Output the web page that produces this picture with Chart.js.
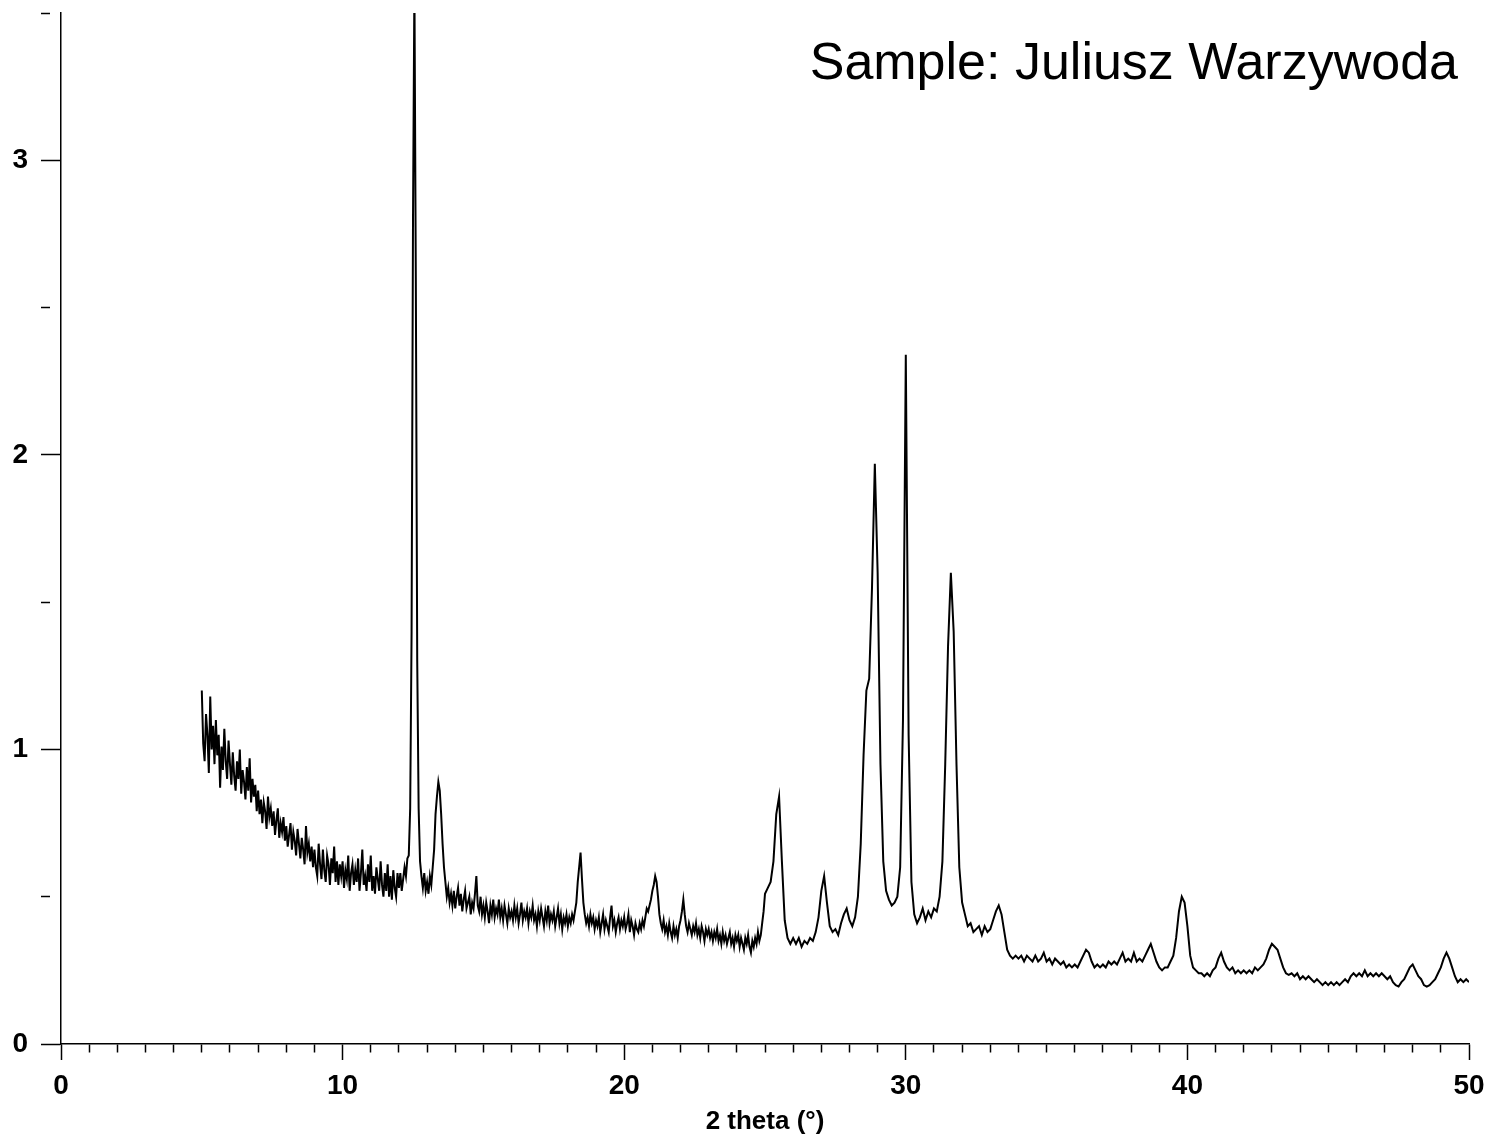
<!DOCTYPE html>
<html>
<head>
<meta charset="utf-8">
<title>XRD pattern</title>
<script src="https://cdn.jsdelivr.net/npm/chart.js@4.4.1/dist/chart.umd.min.js"></script>
<style>
  html, body { margin: 0; padding: 0; background: #fff; }
  #wrap { width: 1488px; height: 1141px; position: relative; }
</style>
</head>
<body>
<div id="wrap"><canvas id="xrdChart"></canvas></div>
<script>
/* XRD scan.
   5 - 25 deg is noisy, so it is read every 0.05 deg; 25 - 50 deg every 0.1 deg */
const sampleTitle = "Sample: Juliusz Warzywoda";
const xAxisTitle = "2 theta (\u00b0)";
const lowStart = 5.0;
const lowStep = 0.05;
const lowAngle = [
  1.20, 1.02, 0.96, 1.12, 1.05, 0.92, 1.18, 1.00, 1.08, 0.95,   // 5.0
  1.10, 0.98, 1.05, 0.87, 1.01, 0.93, 1.07, 0.96, 0.90, 1.03,   // 5.5
  0.95, 0.88, 0.99, 0.91, 0.86, 0.96, 0.90, 1.00, 0.85, 0.93,   // 6.0
  0.89, 0.83, 0.94, 0.86, 0.97, 0.82, 0.90, 0.84, 0.88, 0.79,   // 6.5
  0.86, 0.78, 0.83, 0.75, 0.82, 0.79, 0.73, 0.84, 0.77, 0.80,   // 7.0
  0.74, 0.79, 0.71, 0.76, 0.80, 0.70, 0.75, 0.72, 0.77, 0.69,   // 7.5
  0.74, 0.67, 0.71, 0.75, 0.66, 0.72, 0.69, 0.64, 0.73, 0.68,   // 8.0
  0.63, 0.70, 0.66, 0.61, 0.74, 0.65, 0.68, 0.62, 0.67, 0.60,   // 8.5
  0.66, 0.60, 0.57, 0.68, 0.61, 0.56, 0.66, 0.59, 0.55, 0.64,   // 9.0
  0.61, 0.54, 0.63, 0.58, 0.67, 0.55, 0.62, 0.54, 0.61, 0.57,   // 9.5
  0.62, 0.53, 0.59, 0.56, 0.64, 0.52, 0.58, 0.61, 0.54, 0.59,   // 10.0
  0.55, 0.63, 0.52, 0.58, 0.66, 0.54, 0.57, 0.52, 0.61, 0.55,   // 10.5
  0.64, 0.52, 0.57, 0.51, 0.60, 0.56, 0.52, 0.62, 0.54, 0.50,   // 11.0
  0.58, 0.52, 0.61, 0.50, 0.57, 0.49, 0.59, 0.53, 0.50, 0.58,   // 11.5
  0.53, 0.58, 0.52, 0.56, 0.60, 0.57, 0.63, 0.64, 0.80, 1.40,   // 12.0
  2.80, 3.60, 2.60, 1.30, 0.80, 0.62, 0.57, 0.53, 0.58, 0.52,   // 12.5
  0.55, 0.51, 0.57, 0.54, 0.60, 0.66, 0.78, 0.84, 0.89, 0.86,   // 13.0
  0.78, 0.68, 0.60, 0.55, 0.50, 0.53, 0.48, 0.51, 0.47, 0.52,   // 13.5
  0.46, 0.50, 0.53, 0.47, 0.51, 0.45, 0.49, 0.52, 0.46, 0.48,   // 14.0
  0.50, 0.44, 0.48, 0.46, 0.51, 0.57, 0.47, 0.45, 0.50, 0.44,   // 14.5
  0.47, 0.43, 0.48, 0.45, 0.41, 0.47, 0.44, 0.49, 0.43, 0.46,   // 15.0
  0.44, 0.49, 0.43, 0.46, 0.42, 0.47, 0.44, 0.41, 0.46, 0.43,   // 15.5
  0.45, 0.42, 0.47, 0.43, 0.46, 0.41, 0.44, 0.48, 0.42, 0.45,   // 16.0
  0.43, 0.46, 0.41, 0.45, 0.43, 0.47, 0.42, 0.44, 0.40, 0.45,   // 16.5
  0.42, 0.46, 0.43, 0.40, 0.45, 0.42, 0.47, 0.41, 0.44, 0.42,   // 17.0
  0.45, 0.40, 0.43, 0.46, 0.41, 0.44, 0.39, 0.43, 0.41, 0.44,   // 17.5
  0.40, 0.43, 0.41, 0.44, 0.42, 0.45, 0.48, 0.55, 0.60, 0.65,   // 18.0
  0.56, 0.48, 0.44, 0.41, 0.43, 0.40, 0.44, 0.41, 0.43, 0.39,   // 18.5
  0.42, 0.40, 0.43, 0.38, 0.41, 0.44, 0.39, 0.42, 0.40, 0.38,   // 19.0
  0.43, 0.47, 0.40, 0.42, 0.38, 0.41, 0.43, 0.39, 0.42, 0.40,   // 19.5
  0.43, 0.39, 0.41, 0.44, 0.38, 0.42, 0.40, 0.37, 0.41, 0.39,   // 20.0
  0.38, 0.41, 0.39, 0.42, 0.40, 0.43, 0.46, 0.45, 0.47, 0.49,   // 20.5
  0.52, 0.54, 0.57, 0.55, 0.50, 0.44, 0.41, 0.39, 0.42, 0.38,   // 21.0
  0.40, 0.37, 0.41, 0.38, 0.36, 0.40, 0.37, 0.39, 0.36, 0.40,   // 21.5
  0.42, 0.45, 0.49, 0.44, 0.40, 0.38, 0.41, 0.39, 0.37, 0.40,   // 22.0
  0.38, 0.41, 0.37, 0.39, 0.36, 0.40, 0.38, 0.35, 0.39, 0.37,   // 22.5
  0.39, 0.36, 0.38, 0.35, 0.38, 0.36, 0.39, 0.35, 0.37, 0.34,   // 23.0
  0.38, 0.35, 0.37, 0.34, 0.36, 0.38, 0.34, 0.36, 0.33, 0.37,   // 23.5
  0.35, 0.37, 0.33, 0.36, 0.34, 0.32, 0.36, 0.34, 0.37, 0.33,   // 24.0
  0.31, 0.35, 0.33, 0.36, 0.34, 0.38, 0.35, 0.37, 0.41, 0.45    // 24.5
];
const highStart = 25.0;
const highStep = 0.1;
const highAngle = [
  0.51, 0.53, 0.55, 0.62, 0.78, 0.84, 0.62, 0.42, 0.36, 0.34,   // 25
  0.36, 0.34, 0.36, 0.33, 0.35, 0.34, 0.36, 0.35, 0.38, 0.43,   // 26
  0.52, 0.57, 0.48, 0.40, 0.38, 0.39, 0.37, 0.41, 0.44, 0.46,   // 27
  0.42, 0.40, 0.43, 0.50, 0.68, 0.98, 1.20, 1.24, 1.55, 1.97,   // 28
  1.60, 0.95, 0.62, 0.52, 0.49, 0.47, 0.48, 0.50, 0.60, 1.10,   // 29
  2.34, 1.05, 0.55, 0.44, 0.41, 0.43, 0.46, 0.42, 0.45, 0.43,   // 30
  0.46, 0.45, 0.50, 0.62, 0.95, 1.35, 1.60, 1.40, 0.95, 0.60,   // 31
  0.48, 0.44, 0.40, 0.41, 0.38, 0.39, 0.40, 0.37, 0.40, 0.38,   // 32
  0.39, 0.42, 0.45, 0.47, 0.44, 0.38, 0.32, 0.30, 0.29, 0.30,   // 33
  0.29, 0.30, 0.28, 0.30, 0.29, 0.28, 0.30, 0.28, 0.29, 0.31,   // 34
  0.28, 0.29, 0.27, 0.29, 0.28, 0.27, 0.28, 0.26, 0.27, 0.26,   // 35
  0.27, 0.26, 0.28, 0.30, 0.32, 0.31, 0.28, 0.26, 0.27, 0.26,   // 36
  0.27, 0.26, 0.28, 0.27, 0.28, 0.27, 0.29, 0.31, 0.28, 0.29,   // 37
  0.28, 0.31, 0.28, 0.29, 0.28, 0.30, 0.32, 0.34, 0.31, 0.28,   // 38
  0.26, 0.25, 0.26, 0.26, 0.28, 0.30, 0.36, 0.45, 0.50, 0.48,   // 39
  0.40, 0.30, 0.26, 0.25, 0.24, 0.24, 0.23, 0.24, 0.23, 0.25,   // 40
  0.26, 0.29, 0.31, 0.28, 0.26, 0.25, 0.26, 0.24, 0.25, 0.24,   // 41
  0.25, 0.24, 0.25, 0.24, 0.26, 0.25, 0.26, 0.27, 0.29, 0.32,   // 42
  0.34, 0.33, 0.32, 0.29, 0.26, 0.24, 0.235, 0.24, 0.23, 0.24,  // 43
  0.22, 0.23, 0.22, 0.23, 0.22, 0.21, 0.22, 0.21, 0.20, 0.21,   // 44
  0.20, 0.21, 0.20, 0.21, 0.20, 0.21, 0.22, 0.21, 0.23, 0.24,   // 45
  0.23, 0.24, 0.23, 0.25, 0.23, 0.24, 0.23, 0.24, 0.23, 0.24,   // 46
  0.23, 0.22, 0.23, 0.21, 0.20, 0.195, 0.21, 0.22, 0.24, 0.26,  // 47
  0.27, 0.25, 0.23, 0.22, 0.20, 0.195, 0.20, 0.21, 0.22, 0.24,  // 48
  0.26, 0.29, 0.31, 0.29, 0.26, 0.23, 0.21, 0.22, 0.21, 0.22,   // 49
  0.21                                                          // 50
];
const xLabelEvery = 10;   // labelled x ticks: 0, 10, ... 50
const xRange = [0, 50];
const yRange = [0, 3.5];

Chart.defaults.font.family = '"Liberation Sans", Arial, Helvetica, sans-serif';
Chart.defaults.color = '#000';

const points = lowAngle.map((v, i) => ({ x: +(lowStart + i * lowStep).toFixed(2), y: v }))
  .concat(highAngle.map((v, i) => ({ x: +(highStart + i * highStep).toFixed(2), y: v })));

// the sample name sits inside the plot, top right
const sampleTitlePlugin = {
  id: 'sampleTitle',
  afterDraw(chart) {
    const c = chart.ctx;
    c.save();
    c.font = '52px "Liberation Sans", Arial, sans-serif';
    c.fillStyle = '#000';
    c.textAlign = 'right';
    c.textBaseline = 'alphabetic';
    c.fillText(sampleTitle, chart.chartArea.right - 11, 79);
    c.restore();
  }
};

const tickFont = { size: 28, weight: 'bold' };

new Chart(document.getElementById('xrdChart').getContext('2d'), {
  type: 'line',
  data: {
    datasets: [{
      data: points,
      borderColor: '#000',
      borderWidth: 2,
      pointRadius: 0,
      fill: false,
      tension: 0
    }]
  },
  options: {
    responsive: true,
    maintainAspectRatio: false,
    animation: false,
    layout: { padding: { top: 13, right: 19, left: 0, bottom: 0 } },
    scales: {
      x: {
        type: 'linear',
        min: xRange[0],
        max: xRange[1],
        afterFit: (s) => { s.height = 97; s.paddingLeft = 0; s.paddingRight = 0; },
        border: { display: true, color: '#000', width: 1.5 },
        grid: {
          drawOnChartArea: false,
          tickLength: 16,
          tickColor: '#000',
          tickWidth: 1.5,
          // minor ticks are drawn short by dashing the long tick
          tickBorderDash: (ctx) => (ctx.tick && ctx.tick.value % xLabelEvery !== 0) ? [8, 40] : []
        },
        ticks: {
          stepSize: 1,
          autoSkip: false,
          maxRotation: 0,
          padding: 9,
          font: tickFont,
          callback: (v) => (v % xLabelEvery === 0 ? String(v) : '')
        },
        title: {
          display: true,
          text: xAxisTitle,
          font: { size: 26, weight: 'bold' },
          padding: { top: 2, bottom: 4 }
        }
      },
      y: {
        min: yRange[0],
        max: yRange[1],
        afterFit: (s) => { s.width = 61; s.paddingTop = 0; s.paddingBottom = 0; },
        border: { display: true, color: '#000', width: 1.5 },
        grid: {
          drawOnChartArea: false,
          tickLength: 20,
          tickColor: '#000',
          tickWidth: 1.5,
          tickBorderDash: (ctx) => (ctx.tick && !Number.isInteger(ctx.tick.value)) ? [9, 40] : []
        },
        ticks: {
          stepSize: 0.5,
          autoSkip: false,
          padding: 13,
          font: tickFont,
          callback: (v) => (Number.isInteger(v) ? String(v) : '')
        }
      }
    },
    plugins: {
      legend: { display: false },
      tooltip: { enabled: false }
    }
  },
  plugins: [sampleTitlePlugin]
});
</script>
</body>
</html>
